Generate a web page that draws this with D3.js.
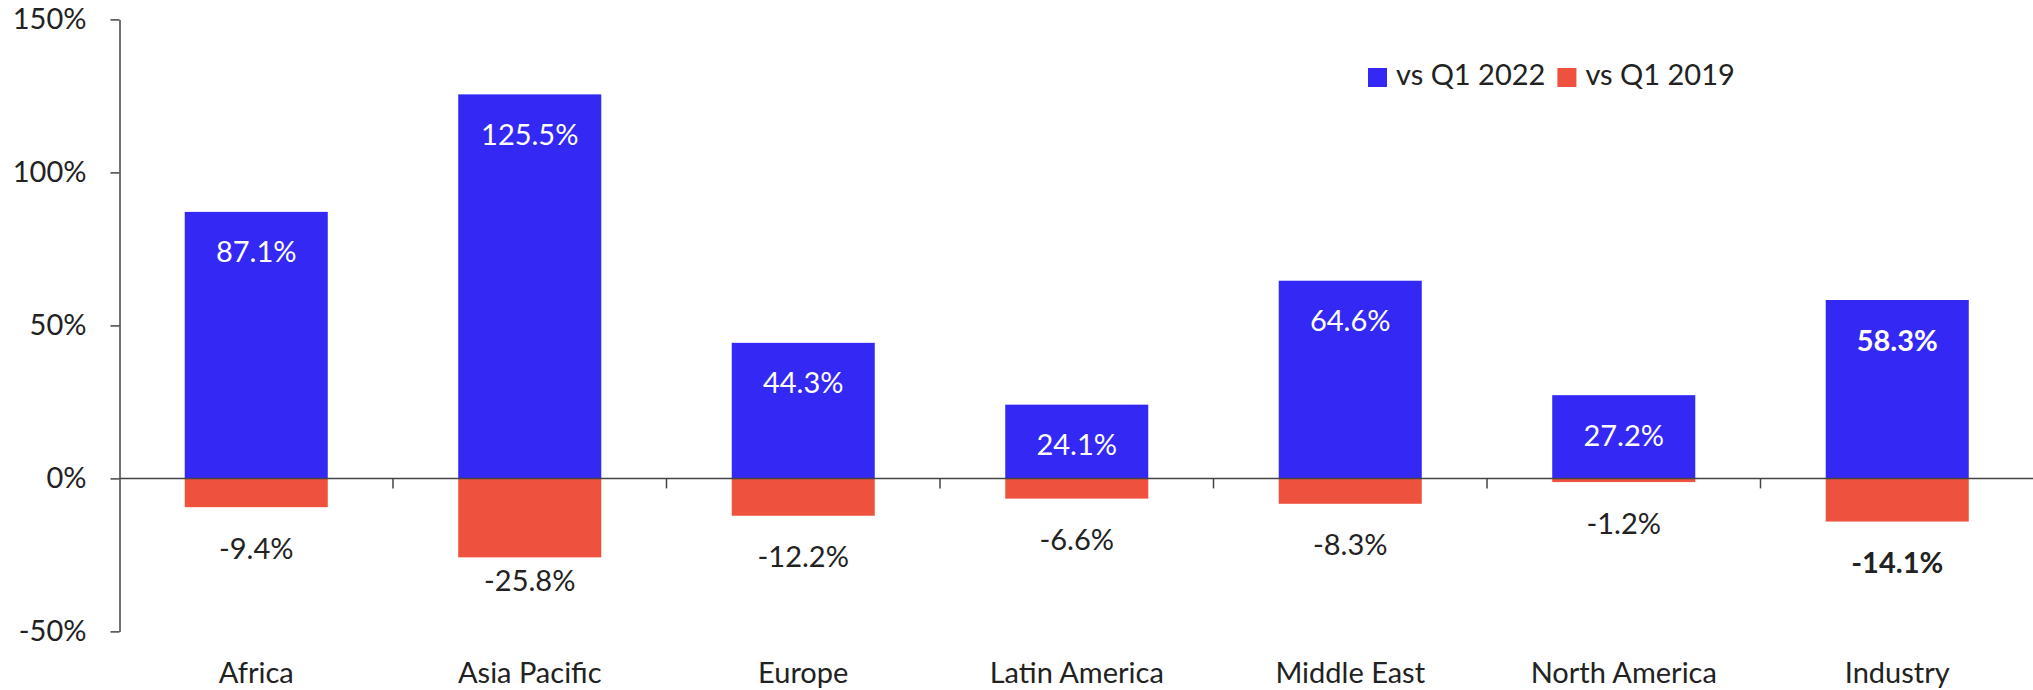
<!DOCTYPE html>
<html>
<head>
<meta charset="utf-8">
<script src="https://cdn.jsdelivr.net/npm/d3@7"></script>
<style>
  body { margin: 0; background: #fff; }
  svg { display: block; font-family: Lato, "Open Sans", sans-serif; }
</style>
</head>
<body>
<svg id="chart" width="2033" height="690"></svg>
<script>
var categories = ["Africa", "Asia Pacific", "Europe", "Latin America", "Middle East", "North America", "Industry"]
var vsQ1_2022 = [87.1, 125.5, 44.3, 24.1, 64.6, 27.2, 58.3]
var vsQ1_2019 = [-9.4, -25.8, -12.2, -6.6, -8.3, -1.2, -14.1]
var seriesNames = ["vs Q1 2022", "vs Q1 2019"]
var yTicks = [-50, 0, 50, 100, 150]

var blue = "#3429f4"
var red = "#ee523e"
var fontSize = 29

var svg = d3.select("#chart")
var plotLeft = 119.5, plotRight = 2034, plotTop = 19.4, plotBottom = 631.4

var x = d3.scaleBand()
    .domain(categories)
    .range([plotLeft, plotRight])
    .paddingInner(0.477)
    .paddingOuter(0.2385)

var y = d3.scaleLinear()
    .domain([-50, 150])
    .range([plotBottom, plotTop])

// y axis
var yAxis = d3.axisLeft(y)
    .tickValues(yTicks)
    .tickFormat(function(d) { return d + "%" })
    .tickSize(9)
    .tickSizeOuter(0)
    .tickPadding(24)

var gy = svg.append("g")
    .attr("transform", "translate(" + plotLeft + ",0)")
    .call(yAxis)
gy.select(".domain").attr("stroke", "#444").attr("stroke-width", 1.5)
gy.selectAll(".tick line").attr("stroke", "#444").attr("stroke-width", 1.5)
gy.selectAll(".tick text")
    .attr("fill", "#222")
    .style("font-size", fontSize + "px")
    .style("font-family", "Lato")

// bars
var data = categories.map(function(c, i) {
    return { cat: c, pos: vsQ1_2022[i], neg: vsQ1_2019[i], bold: c === "Industry" }
})

svg.selectAll("rect.pos")
    .data(data)
    .enter().append("rect")
    .attr("class", "pos")
    .attr("x", function(d) { return x(d.cat) })
    .attr("width", x.bandwidth())
    .attr("y", function(d) { return y(d.pos) })
    .attr("height", function(d) { return y(0) - y(d.pos) })
    .attr("fill", blue)

svg.selectAll("rect.neg")
    .data(data)
    .enter().append("rect")
    .attr("class", "neg")
    .attr("x", function(d) { return x(d.cat) })
    .attr("width", x.bandwidth())
    .attr("y", y(0))
    .attr("height", function(d) { return y(d.neg) - y(0) })
    .attr("fill", red)

// zero line with category ticks
svg.append("line")
    .attr("x1", plotLeft).attr("x2", 2033)
    .attr("y1", y(0)).attr("y2", y(0))
    .attr("stroke", "#444").attr("stroke-width", 1.5)

var gap = (x.step() - x.bandwidth()) / 2
svg.selectAll("line.xtick")
    .data(categories)
    .enter().append("line")
    .attr("class", "xtick")
    .attr("x1", function(d) { return x(d) - gap + x.step() })
    .attr("x2", function(d) { return x(d) - gap + x.step() })
    .attr("y1", y(0)).attr("y2", y(0) + 10)
    .attr("stroke", "#444").attr("stroke-width", 1.5)

// value labels
svg.selectAll("text.posLabel")
    .data(data)
    .enter().append("text")
    .attr("class", "posLabel")
    .attr("x", function(d) { return x(d.cat) + x.bandwidth() / 2 })
    .attr("y", function(d) { return y(d.pos) + 39 })
    .attr("text-anchor", "middle")
    .attr("dominant-baseline", "central")
    .attr("fill", "#fff")
    .style("font-size", fontSize + "px")
    .style("font-weight", function(d) { return d.bold ? "bold" : "normal" })
    .text(function(d) { return d.pos.toFixed(1) + "%" })

svg.selectAll("text.negLabel")
    .data(data)
    .enter().append("text")
    .attr("class", "negLabel")
    .attr("x", function(d) { return x(d.cat) + x.bandwidth() / 2 })
    .attr("y", function(d) { return Math.min(y(d.neg) + 40, y(-33)) })
    .attr("text-anchor", "middle")
    .attr("dominant-baseline", "central")
    .attr("fill", "#222")
    .style("font-size", fontSize + "px")
    .style("font-weight", function(d) { return d.bold ? "bold" : "normal" })
    .text(function(d) { return d.neg.toFixed(1) + "%" })

// category labels
svg.selectAll("text.cat")
    .data(categories)
    .enter().append("text")
    .attr("class", "cat")
    .attr("x", function(d) { return x(d) + x.bandwidth() / 2 })
    .attr("y", 683)
    .attr("text-anchor", "middle")
    .attr("fill", "#222")
    .style("font-size", fontSize + "px")
    .text(function(d) { return d })

// legend
var legend = svg.append("g").attr("transform", "translate(1368,68)")
var lx = 0
seriesNames.forEach(function(name, i) {
    legend.append("rect")
        .attr("x", lx).attr("y", 0)
        .attr("width", 19).attr("height", 19)
        .attr("fill", i === 0 ? blue : red)
    var t = legend.append("text")
        .attr("x", lx + 28).attr("y", 17)
        .attr("fill", "#222")
        .style("font-size", fontSize + "px")
        .text(name)
    lx = lx + 28 + t.node().getComputedTextLength() + 12
})
</script>
</body>
</html>
